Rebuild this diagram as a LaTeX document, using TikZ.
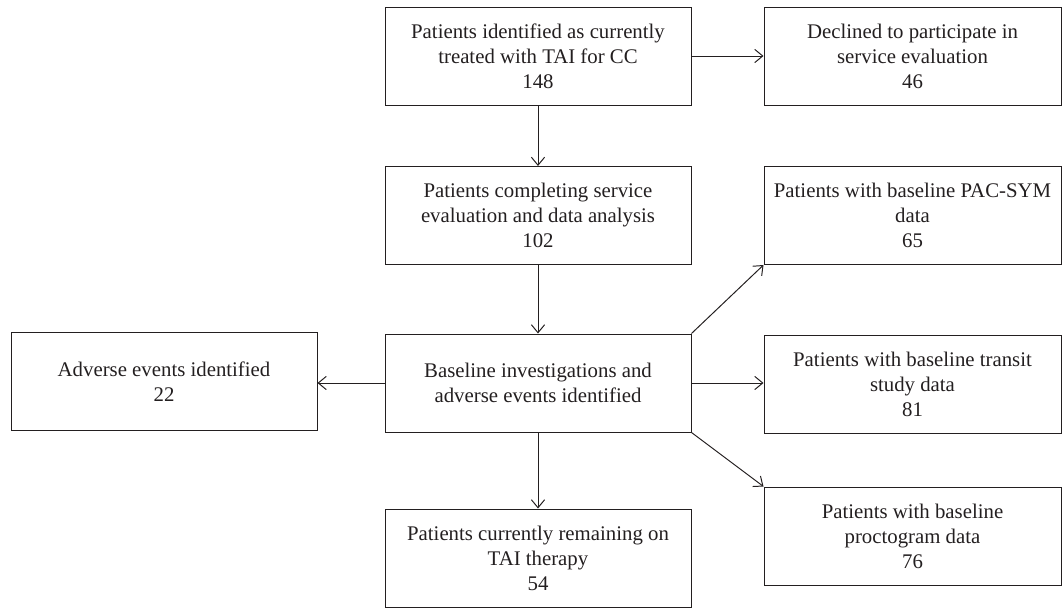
\documentclass[tikz,border=0pt]{standalone}
\usepackage{fontspec}
\setmainfont{Liberation Serif}
\usetikzlibrary{arrows.meta}
\definecolor{inkgrey}{HTML}{231F20}

\tikzstyle{flowbox} = [draw=inkgrey,line width=0.7pt,rectangle,align=center,text=inkgrey,
  minimum height=2.45cm,inner sep=2pt,font=\fontsize{14.8}{17.8}\selectfont]
\tikzstyle{arrowdecorate} = [draw=inkgrey,line width=0.7pt,-{Straight Barb[length=2mm,width=3.3mm]}]

\begin{document}
\begin{tikzpicture}
  \useasboundingbox (0,0) rectangle (26.55,-15.25);
  %% boxes
  \foreach \nodename/\x/\y/\w/\content in {
    ident/13.45/-1.4/7.65/{Patients identified as currently\\treated with TAI for CC\\148},
    declined/22.8125/-1.4/7.425/{Declined to participate in\\service evaluation\\46},
    complete/13.45/-5.3875/7.65/{Patients completing service\\evaluation and data analysis\\102},
    pacsym/22.8125/-5.3875/7.425/{Patients with baseline PAC-SYM\\data\\65},
    adverse/4.1/-9.5375/7.65/{Adverse events identified\\22},
    baseline/13.45/-9.575/7.65/{Baseline investigations and\\adverse events identified},
    transit/22.8125/-9.6/7.425/{Patients with baseline transit\\study data\\81},
    remain/13.45/-13.95/7.65/{Patients currently remaining on\\TAI therapy\\54},
    procto/22.8125/-13.4/7.425/{Patients with baseline\\proctogram data\\76}}
  {
    \node[flowbox, minimum width=\w cm] (\nodename) at (\x,\y) {\content};
  }
  %% arrows
  \path
  \foreach \startnode/\endnode in {
    ident.east/declined.west, ident.south/complete.north, complete.south/baseline.north,
    baseline.north east/pacsym.south west,
    baseline.south east/procto.north west, baseline.south/remain.north}
  {
    (\startnode) edge[arrowdecorate] (\endnode)
  };
  \draw[arrowdecorate] (baseline.east) -- (baseline.east -| transit.west);
  \draw[arrowdecorate] (baseline.west) -- (baseline.west -| adverse.east);
\end{tikzpicture}
\end{document}
